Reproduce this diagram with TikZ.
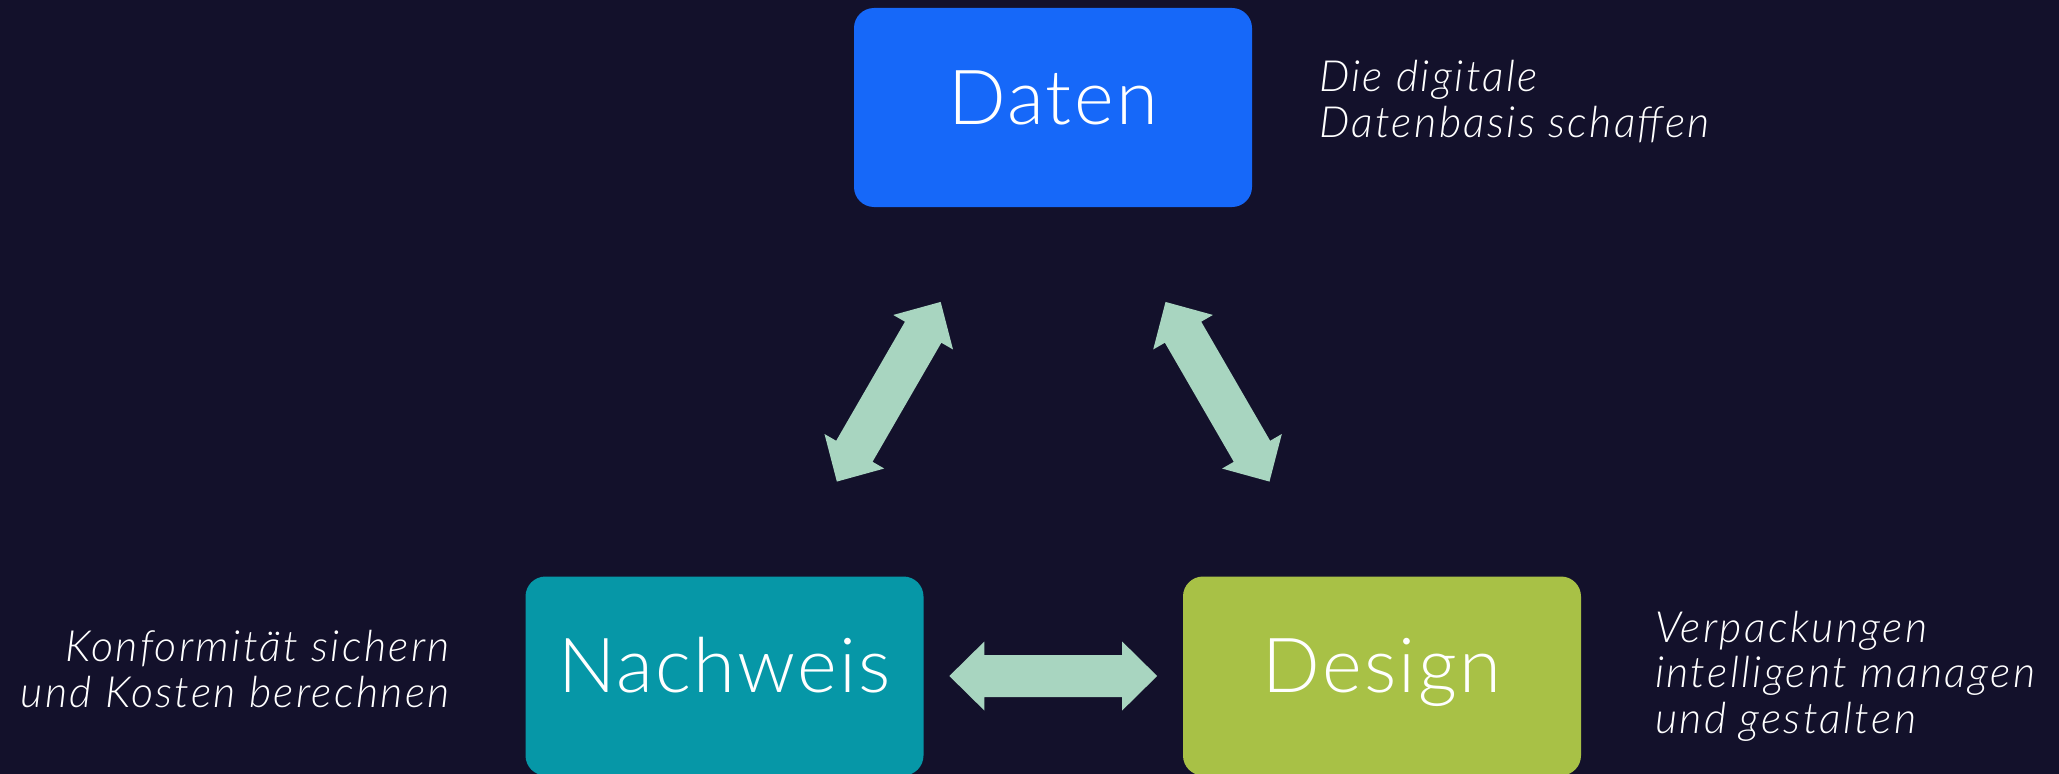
\documentclass[tikz,border=0pt]{standalone}
\usepackage{fontspec}
\setmainfont{Lato}[UprightFont=* Light, ItalicFont=* Light Italic]
\newfontfamily\boxfont{Lato}[UprightFont=* Light, LetterSpace=3]
\newfontfamily\lblfont{Lato}[UprightFont=* Light Italic, LetterSpace=5.5]
\usetikzlibrary{calc}
\definecolor{bg}{HTML}{13112B}
\definecolor{datenc}{HTML}{1668F9}
\definecolor{nachc}{HTML}{0697A7}
\definecolor{designc}{HTML}{A8C146}
\definecolor{arrowc}{HTML}{A8D5C0}
\newcommand\fatarr[2]{%
  \path (#1) coordinate (A1) (#2) coordinate (A2);
  \path ($(A1)!35bp!(A2)$) coordinate (B1) ($(A2)!35bp!(A1)$) coordinate (B2);
  \fill[arrowc] (A1) -- ($(B1)!34.5bp!90:(A2)$) -- ($(B1)!21bp!90:(A2)$)
    -- ($(B2)!21bp!-90:(A1)$) -- ($(B2)!34.5bp!-90:(A1)$) -- (A2)
    -- ($(B2)!34.5bp!90:(A1)$) -- ($(B2)!21bp!90:(A1)$)
    -- ($(B1)!21bp!-90:(A2)$) -- ($(B1)!34.5bp!-90:(A2)$) -- cycle;}
\begin{document}
\begin{tikzpicture}[x=1bp,y=-1bp,
  box/.style={rectangle, rounded corners=20bp, minimum width=398bp, minimum height=199bp,
    inner sep=0pt, text=white, font=\boxfont\fontsize{76bp}{80bp}\selectfont,
    text height=54bp, text depth=21bp},
  lbl/.style={text=white, inner sep=0pt, font=\lblfont\fontsize{43bp}{45.5bp}\selectfont}]
  \fill[bg] (0,0) rectangle (2059,774);
  \useasboundingbox (0,0) rectangle (2059,774);

  \node[box, fill=datenc] (dat) at (1053,107.5) {Daten};
  \node[box, fill=nachc] (nach) at (724.5,676) {Nachweis};
  \node[box, fill=designc] (des) at (1382,676) {Design};

  \fatarr{$(nach.center)!0.342!(dat.center)$}{$(nach.center)!0.658!(dat.center)$}
  \fatarr{$(des.center)!0.342!(dat.center)$}{$(des.center)!0.658!(dat.center)$}
  \fatarr{$(nach.center)!0.342!(des.center)$}{$(nach.center)!0.658!(des.center)$}

  \node[lbl, align=left, anchor=base west] (l1) at (1319,137) {Die digitale\\Datenbasis schaffen};
  \node[lbl, align=right, anchor=base east] (l2) at (450,707) {Konformität sichern\\und Kosten berechnen};
  \node[lbl, align=left, anchor=base west] (l3) at (1655,733) {Verpackungen\\intelligent managen\\und gestalten};
\end{tikzpicture}
\end{document}
